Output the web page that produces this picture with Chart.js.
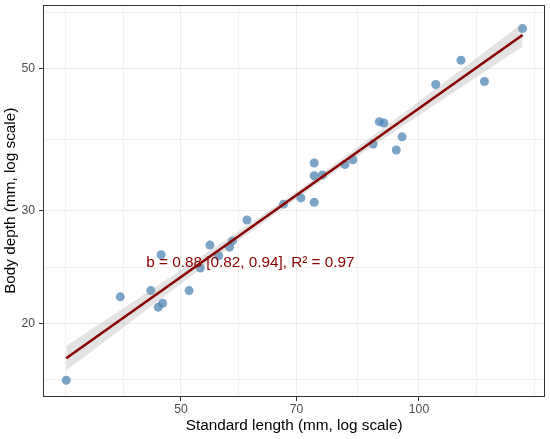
<!DOCTYPE html>
<html><head><meta charset="utf-8">
<script src="https://cdn.jsdelivr.net/npm/chart.js@4"></script>
<style>html,body{margin:0;padding:0;background:#fff}#wrap{width:550px;height:439px;position:relative}</style>
</head><body><div id="wrap"><canvas id="c"></canvas></div>
<script>
// Data
const standardLength = [35.8, 41.9, 45.8, 46.8, 47.4, 47.2, 51.2, 52.9, 54.4, 55.8, 57.6, 58.1, 60.6, 67.4, 70.9, 73.7, 73.7, 73.7, 75.5, 80.6, 82.5, 87.5, 89.1, 90.3, 93.6, 95.2, 105.0, 113.0, 121.0, 135.2];
const bodyDepth      = [16.3, 22.0, 22.5, 21.2, 21.5, 25.6, 22.5, 24.4, 26.5, 25.5, 26.3, 26.9, 29.0, 30.7, 31.4, 30.9, 35.6, 34.0, 34.1, 35.4, 36.0, 38.1, 41.3, 41.1, 37.3, 39.1, 47.2, 51.5, 47.7, 57.7];
// fitted line and confidence band
const fitX = [35.8, 135.2];
const fitY = [17.64, 56.4];
const bandX    = [35.8, 41.9, 50, 59.4, 69.9, 83.7, 100, 118.4, 135.2];
const bandLow  = [16.88, 19.55, 23.07, 27.02, 31.27, 36.48, 42.27, 48.52, 54.07];
const bandHigh = [18.44, 20.96, 24.24, 27.93, 32.08, 37.71, 44.42, 51.97, 58.81];
// ticks
const xMajorTicks = [50, 70, 100];
const xMinorTicks = [35.71, 42.26, 59.16, 83.67, 118.3, 140];
const yMajorTicks = [20, 30, 50];
const yMinorTicks = [16.33, 24.49, 38.73, 61.24];
const xLimits = [33.46, 144.45];
const yLimits = [15.35, 62.92];
const annotText = 'b = 0.88 [0.82, 0.94], R\u00B2 = 0.97';
const annotX = 61.2, annotY = 24.9;

const FONT = '"Liberation Sans", Arial, sans-serif';
const pts = (xs, ys) => xs.map((v, i) => ({x: v, y: ys[i]}));

const panelPlugin = {
  id: 'panel',
  afterDatasetsDraw(chart) {
    const {ctx, scales: {x, y}} = chart;
    ctx.save();
    ctx.font = '15.3px ' + FONT;
    ctx.fillStyle = '#8B0000';
    ctx.textAlign = 'center';
    ctx.textBaseline = 'middle';
    ctx.fillText(annotText, x.getPixelForValue(annotX), y.getPixelForValue(annotY));
    ctx.restore();
  },
  afterDraw(chart) {
    const {ctx, chartArea: a} = chart;
    ctx.save();
    ctx.strokeStyle = '#333333';
    ctx.lineWidth = 1;
    const l = Math.round(a.left) + 0.5, t = Math.round(a.top) + 0.5;
    const r = Math.round(a.right) - 0.5, b = Math.round(a.bottom) - 0.5;
    ctx.strokeRect(l, t, r - l, b - t);
    ctx.restore();
  }
};

function axisCfg(majors, minors, limits, title, isX) {
  const all = majors.concat(minors).sort((a, b) => a - b);
  const isMajor = v => majors.includes(v);
  return {
    type: 'logarithmic', min: limits[0], max: limits[1], bounds: 'data',
    afterBuildTicks: s => { s.ticks = all.map(v => ({value: v})); },
    afterFit: s => {
      if (isX) { s.height = 42; s.paddingLeft = 0; s.paddingRight = 0; }
      else { s.width = 43; s.paddingTop = 0; s.paddingBottom = 0; }
    },
    ticks: {
      autoSkip: false, maxRotation: 0, minRotation: 0, padding: isX ? 1 : 4,
      color: '#4D4D4D', font: {family: FONT, size: 12.2},
      callback: v => isMajor(v) ? String(v) : ''
    },
    grid: {
      color: c => (c.tick && isMajor(c.tick.value)) ? '#EBEBEB' : '#F1F1F1',
      lineWidth: 1,
      tickLength: 4,
      tickWidth: 1,
      tickColor: c => (c.tick && isMajor(c.tick.value)) ? '#333333' : 'rgba(0,0,0,0)'
    },
    border: {display: false},
    title: {
      display: true, text: title, color: '#000000',
      font: {family: FONT, size: 15.3},
      padding: isX ? {top: 0, bottom: 4} : {top: 2, bottom: 0}
    }
  };
}

new Chart(document.getElementById('c'), {
  type: 'scatter',
  data: {
    datasets: [
      {type: 'line', label: 'fit', data: pts(fitX, fitY), borderColor: '#8B0000', borderWidth: 2.6,
       pointRadius: 0, fill: false, order: 0},
      {type: 'line', label: 'upper', data: pts(bandX, bandHigh), borderColor: 'rgba(0,0,0,0)', borderWidth: 0,
       pointRadius: 0, fill: '+1', backgroundColor: 'rgba(150,150,150,0.27)', order: 1},
      {type: 'line', label: 'lower', data: pts(bandX, bandLow), borderColor: 'rgba(0,0,0,0)', borderWidth: 0,
       pointRadius: 0, fill: false, order: 1},
      {type: 'scatter', label: 'fish', data: pts(standardLength, bodyDepth),
       backgroundColor: 'rgba(70,130,180,0.72)', borderWidth: 0, pointRadius: 4.5, order: 2}
    ]
  },
  options: {
    responsive: true, maintainAspectRatio: false, animation: false,
    layout: {padding: {left: 0, right: 4.7, top: 4, bottom: 0}},
    plugins: {legend: {display: false}, tooltip: {enabled: false}},
    scales: {
      x: axisCfg(xMajorTicks, xMinorTicks, xLimits, 'Standard length (mm, log scale)', true),
      y: axisCfg(yMajorTicks, yMinorTicks, yLimits, 'Body depth (mm, log scale)', false)
    }
  },
  plugins: [panelPlugin]
});
</script>
</body></html>
